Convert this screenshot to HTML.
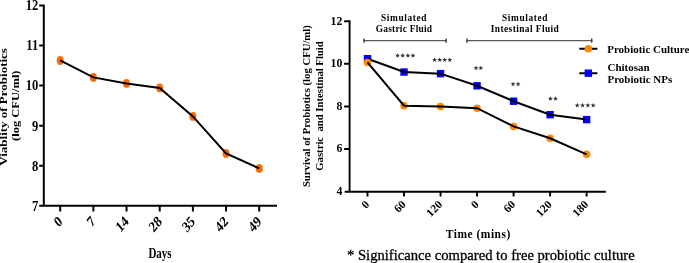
<!DOCTYPE html>
<html><head><meta charset="utf-8">
<style>
html,body{margin:0;padding:0;background:#fff;}
body{width:689px;height:263px;overflow:hidden;}
svg{display:block;will-change:transform;}
text{font-family:"Liberation Serif",serif;}
</style></head><body>
<svg width="689" height="263" viewBox="0 0 689 263">
<path d="M43.8,4.5 V206.8 M39.2,205.8 H277 M39.2,5.40 H43.8 M39.2,45.48 H43.8 M39.2,85.56 H43.8 M39.2,125.64 H43.8 M39.2,165.72 H43.8 M60.20,205.8 V211.5 M93.37,205.8 V211.5 M126.54,205.8 V211.5 M159.71,205.8 V211.5 M192.88,205.8 V211.5 M226.05,205.8 V211.5 M259.22,205.8 V211.5" stroke="#000" stroke-width="2" fill="none"/>
<g fill="#ff6a00">
<ellipse cx="60.20" cy="60.45" rx="3.5" ry="4.45"/>
<ellipse cx="93.37" cy="77.4" rx="3.5" ry="4.45"/>
<ellipse cx="126.54" cy="83.4" rx="3.5" ry="4.45"/>
<ellipse cx="159.71" cy="87.9" rx="3.5" ry="4.45"/>
<ellipse cx="192.88" cy="116.4" rx="3.5" ry="4.45"/>
<ellipse cx="226.05" cy="153.4" rx="3.5" ry="4.45"/>
<ellipse cx="259.22" cy="168.4" rx="3.5" ry="4.45"/>
</g>
<polyline fill="none" stroke="#000" stroke-width="2" points="60.20,60.45 93.37,77.4 126.54,83.4 159.71,87.9 192.88,116.4 226.05,153.4 259.22,168.4"/>
<text transform="translate(38.20,10.30) scale(0.850,1.000)" font-size="14.8" text-anchor="end" font-weight="bold">12</text>
<text transform="translate(38.20,50.38) scale(0.850,1.000)" font-size="14.8" text-anchor="end" font-weight="bold">11</text>
<text transform="translate(38.20,90.46) scale(0.850,1.000)" font-size="14.8" text-anchor="end" font-weight="bold">10</text>
<text transform="translate(38.20,130.54) scale(0.850,1.000)" font-size="14.8" text-anchor="end" font-weight="bold">9</text>
<text transform="translate(38.20,170.62) scale(0.850,1.000)" font-size="14.8" text-anchor="end" font-weight="bold">8</text>
<text transform="translate(38.20,210.70) scale(0.850,1.000)" font-size="14.8" text-anchor="end" font-weight="bold">7</text>
<text transform="translate(63.10,222.30) scale(0.820,1.000) rotate(-45)" font-size="15.3" text-anchor="end" font-weight="bold">0</text>
<text transform="translate(96.27,222.30) scale(0.820,1.000) rotate(-45)" font-size="15.3" text-anchor="end" font-weight="bold">7</text>
<text transform="translate(129.44,222.30) scale(0.820,1.000) rotate(-45)" font-size="15.3" text-anchor="end" font-weight="bold">14</text>
<text transform="translate(162.61,222.30) scale(0.820,1.000) rotate(-45)" font-size="15.3" text-anchor="end" font-weight="bold">28</text>
<text transform="translate(195.78,222.30) scale(0.820,1.000) rotate(-45)" font-size="15.3" text-anchor="end" font-weight="bold">35</text>
<text transform="translate(228.95,222.30) scale(0.820,1.000) rotate(-45)" font-size="15.3" text-anchor="end" font-weight="bold">42</text>
<text transform="translate(262.12,222.30) scale(0.820,1.000) rotate(-45)" font-size="15.3" text-anchor="end" font-weight="bold">49</text>
<text transform="translate(160.00,258.40) scale(0.790,1.000)" font-size="13.9" text-anchor="middle" font-weight="bold">Days</text>
<text transform="translate(7.40,106.90) scale(0.850,1.000) rotate(-90)" font-size="13.0" text-anchor="middle" font-weight="bold">Viablity of Probiotics</text>
<text transform="translate(18.50,105.70) scale(0.850,1.000) rotate(-90)" font-size="12.5" text-anchor="middle" font-weight="bold">(log CFU/ml)</text>
<path d="M349.6,20.3 V192.6 M344.7,191.7 H605.8 M344.1,21.20 H349.6 M344.1,63.82 H349.6 M344.1,106.44 H349.6 M344.1,149.06 H349.6 M367.50,191.7 V196.4 M404.02,191.7 V196.4 M440.54,191.7 V196.4 M477.06,191.7 V196.4 M513.58,191.7 V196.4 M550.10,191.7 V196.4 M586.62,191.7 V196.4" stroke="#000" stroke-width="1.9" fill="none"/>
<path d="M363.4,40.6 H446.8 M466.3,40.6 H592.4 " stroke="#5a5a5a" stroke-width="1.2" fill="none"/>
<path d="M364.09999999999997,38.5 V42.7 M446.1,38.5 V42.7 M467.0,38.5 V42.7 M591.6999999999999,38.5 V42.7 " stroke="#3a3a3a" stroke-width="1.4" fill="none"/>
<g fill="#0000ff">
<rect x="363.80" y="55.00" width="7.4" height="7.4"/>
<rect x="400.32" y="68.35" width="7.4" height="7.4"/>
<rect x="436.84" y="69.95" width="7.4" height="7.4"/>
<rect x="473.36" y="82.10" width="7.4" height="7.4"/>
<rect x="509.88" y="97.50" width="7.4" height="7.4"/>
<rect x="546.40" y="111.00" width="7.4" height="7.4"/>
<rect x="582.92" y="115.90" width="7.4" height="7.4"/>
</g>
<polyline fill="none" stroke="#000" stroke-width="2" points="367.50,58.7 404.02,72.05 440.54,73.65 477.06,85.8 513.58,101.2 550.10,114.7 586.62,119.6"/>
<g fill="#ff8800">
<circle cx="367.50" cy="62.4" r="3.75"/>
<circle cx="404.02" cy="105.7" r="3.75"/>
<circle cx="440.54" cy="106.4" r="3.75"/>
<circle cx="477.06" cy="108.2" r="3.75"/>
<circle cx="513.58" cy="126.4" r="3.75"/>
<circle cx="550.10" cy="138.3" r="3.75"/>
<circle cx="586.62" cy="154.3" r="3.75"/>
</g>
<polyline fill="none" stroke="#000" stroke-width="2" points="367.50,62.4 404.02,105.7 440.54,106.4 477.06,108.2 513.58,126.4 550.10,138.3 586.62,154.3"/>
<g fill="#383838">
<polygon points="397.53,53.00 398.18,54.64 399.95,54.76 398.59,55.90 399.02,57.61 397.53,56.67 396.03,57.61 396.46,55.90 395.10,54.76 396.87,54.64"/>
<polygon points="402.68,53.00 403.33,54.64 405.10,54.76 403.74,55.90 404.17,57.61 402.68,56.67 401.18,57.61 401.61,55.90 400.25,54.76 402.02,54.64"/>
<polygon points="407.82,53.00 408.48,54.64 410.25,54.76 408.89,55.90 409.32,57.61 407.82,56.67 406.33,57.61 406.76,55.90 405.40,54.76 407.17,54.64"/>
<polygon points="412.97,53.00 413.63,54.64 415.40,54.76 414.04,55.90 414.47,57.61 412.97,56.67 411.48,57.61 411.91,55.90 410.55,54.76 412.32,54.64"/>
<polygon points="434.63,57.35 435.28,58.99 437.05,59.11 435.69,60.25 436.12,61.96 434.63,61.02 433.13,61.96 433.56,60.25 432.20,59.11 433.97,58.99"/>
<polygon points="439.68,57.35 440.33,58.99 442.10,59.11 440.74,60.25 441.17,61.96 439.68,61.02 438.18,61.96 438.61,60.25 437.25,59.11 439.02,58.99"/>
<polygon points="444.72,57.35 445.38,58.99 447.15,59.11 445.79,60.25 446.22,61.96 444.72,61.02 443.23,61.96 443.66,60.25 442.30,59.11 444.07,58.99"/>
<polygon points="449.77,57.35 450.43,58.99 452.20,59.11 450.84,60.25 451.27,61.96 449.77,61.02 448.28,61.96 448.71,60.25 447.35,59.11 449.12,58.99"/>
<polygon points="476.03,65.50 476.68,67.14 478.45,67.26 477.09,68.40 477.52,70.11 476.03,69.17 474.53,70.11 474.96,68.40 473.60,67.26 475.37,67.14"/>
<polygon points="480.77,65.50 481.43,67.14 483.20,67.26 481.84,68.40 482.27,70.11 480.77,69.17 479.28,70.11 479.71,68.40 478.35,67.26 480.12,67.14"/>
<polygon points="513.03,81.60 513.68,83.24 515.45,83.36 514.09,84.50 514.52,86.21 513.03,85.27 511.53,86.21 511.96,84.50 510.60,83.36 512.37,83.24"/>
<polygon points="518.07,81.60 518.73,83.24 520.50,83.36 519.14,84.50 519.57,86.21 518.07,85.27 516.58,86.21 517.01,84.50 515.65,83.36 517.42,83.24"/>
<polygon points="550.43,96.20 551.08,97.84 552.85,97.96 551.49,99.10 551.92,100.81 550.43,99.87 548.93,100.81 549.36,99.10 548.00,97.96 549.77,97.84"/>
<polygon points="555.47,96.20 556.13,97.84 557.90,97.96 556.54,99.10 556.97,100.81 555.47,99.87 553.98,100.81 554.41,99.10 553.05,97.96 554.82,97.84"/>
<polygon points="577.23,102.85 577.88,104.49 579.65,104.61 578.29,105.75 578.72,107.46 577.23,106.52 575.73,107.46 576.16,105.75 574.80,104.61 576.57,104.49"/>
<polygon points="582.54,102.85 583.20,104.49 584.97,104.61 583.61,105.75 584.04,107.46 582.54,106.52 581.04,107.46 581.47,105.75 580.12,104.61 581.88,104.49"/>
<polygon points="587.86,102.85 588.52,104.49 590.28,104.61 588.93,105.75 589.36,107.46 587.86,106.52 586.36,107.46 586.79,105.75 585.43,104.61 587.20,104.49"/>
<polygon points="593.17,102.85 593.83,104.49 595.60,104.61 594.24,105.75 594.67,107.46 593.17,106.52 591.68,107.46 592.11,105.75 590.75,104.61 592.52,104.49"/>
</g>
<text transform="translate(342.30,24.50)" font-size="11.8" text-anchor="end" font-weight="bold">12</text>
<text transform="translate(342.30,67.12)" font-size="11.8" text-anchor="end" font-weight="bold">10</text>
<text transform="translate(342.30,109.74)" font-size="11.8" text-anchor="end" font-weight="bold">8</text>
<text transform="translate(342.30,152.36)" font-size="11.8" text-anchor="end" font-weight="bold">6</text>
<text transform="translate(342.30,194.98)" font-size="11.8" text-anchor="end" font-weight="bold">4</text>
<text transform="translate(370.00,205.20) rotate(-45)" font-size="11.5" text-anchor="end" font-weight="bold">0</text>
<text transform="translate(406.52,205.20) rotate(-45)" font-size="11.5" text-anchor="end" font-weight="bold">60</text>
<text transform="translate(443.04,205.20) rotate(-45)" font-size="11.5" text-anchor="end" font-weight="bold">120</text>
<text transform="translate(479.56,205.20) rotate(-45)" font-size="11.5" text-anchor="end" font-weight="bold">0</text>
<text transform="translate(516.08,205.20) rotate(-45)" font-size="11.5" text-anchor="end" font-weight="bold">60</text>
<text transform="translate(552.60,205.20) rotate(-45)" font-size="11.5" text-anchor="end" font-weight="bold">120</text>
<text transform="translate(589.12,205.20) rotate(-45)" font-size="11.5" text-anchor="end" font-weight="bold">180</text>
<text transform="translate(404.00,20.60)" font-size="9.4" text-anchor="middle" font-weight="bold" letter-spacing="0.62">Simulated</text>
<text transform="translate(404.00,31.50)" font-size="9.4" text-anchor="middle" font-weight="bold" letter-spacing="0.25">Gastric Fluid</text>
<text transform="translate(525.00,20.60)" font-size="9.4" text-anchor="middle" font-weight="bold" letter-spacing="0.62">Simulated</text>
<text transform="translate(525.00,31.70)" font-size="9.4" text-anchor="middle" font-weight="bold" letter-spacing="0.42">Intestinal Fluid</text>
<text transform="translate(607.20,52.60) scale(0.980,1.000)" font-size="11.2" text-anchor="start" font-weight="bold">Probiotic Culture</text>
<text transform="translate(607.50,70.80) scale(0.980,1.000)" font-size="11.2" text-anchor="start" font-weight="bold">Chitosan</text>
<text transform="translate(607.50,83.20) scale(0.980,1.000)" font-size="11.2" text-anchor="start" font-weight="bold">Probiotic NPs</text>
<text transform="translate(478.30,237.60)" font-size="11.5" text-anchor="middle" font-weight="bold" letter-spacing="0.5">Time (mins)</text>
<text transform="translate(309.60,106.15) rotate(-90)" font-size="10.7" text-anchor="middle" font-weight="bold">Survival of Probiotics (log CFU/ml)</text>
<text transform="translate(323.00,106.00) rotate(-90)" font-size="10.7" text-anchor="middle" font-weight="bold">Gastric &#160;and Intestinal Fluid</text>
<text transform="translate(347.00,259.70) scale(0.976,1.000)" font-size="15" text-anchor="start" stroke="#000" stroke-width="0.3">* Significance compared to free probiotic culture</text>
<path d="M579.3,48.8 H597.4 M579.3,73.2 H597.4" stroke="#000" stroke-width="2"/>
<circle cx="588.3499999999999" cy="48.8" r="3.8" fill="#ff8800"/>
<rect x="584.6499999999999" y="69.5" width="7.4" height="7.4" fill="#0000ff"/>
</svg>
</body></html>
